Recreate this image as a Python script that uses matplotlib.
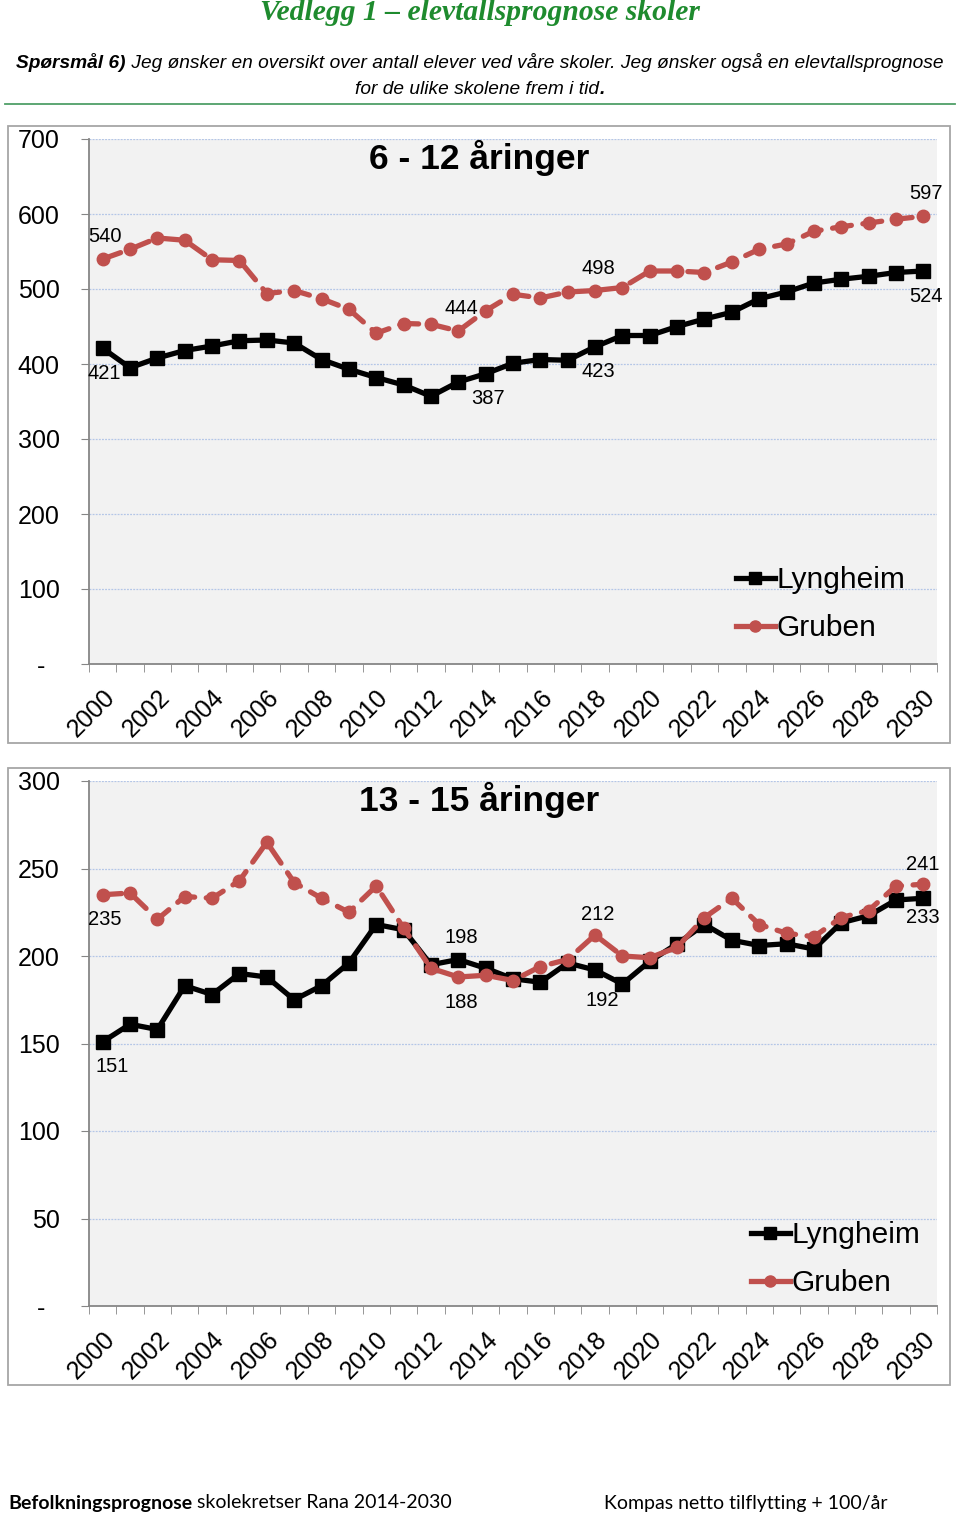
import matplotlib
matplotlib.use("Agg")
import matplotlib.pyplot as plt
from matplotlib.patches import Rectangle
from matplotlib.lines import Line2D

plt.rcParams['font.family'] = ['Liberation Sans', 'DejaVu Sans']

years = list(range(2000, 2031))
year_labels = [str(y) for y in years[::2]]
series_names = ["Lyngheim", "Gruben"]

# 6 - 12 aaringer
lyngheim_6_12 = [421, 395, 408, 418, 424, 431, 432, 428, 406, 393, 382, 372, 357, 376, 387, 401,
                 406, 405, 423, 438, 438, 450, 460, 469, 487, 496, 508, 513, 517, 522, 524]
gruben_6_12 = [540, 553, 568, 565, 539, 538, 494, 498, 487, 473, 441, 454, 453, 444, 471, 493,
               488, 496, 498, 502, 524, 524, 522, 536, 553, 560, 577, 583, 588, 593, 597]

# 13 - 15 aaringer
lyngheim_13_15 = [151, 161, 158, 183, 178, 190, 188, 175, 183, 196, 218, 215, 195, 198, 193, 187,
                  185, 196, 192, 184, 197, 207, 218, 209, 206, 207, 204, 219, 223, 232, 233]
gruben_13_15 = [235, 236, 221, 234, 233, 243, 265, 242, 233, 225, 240, 216, 193, 188, 189, 186,
                194, 198, 212, 200, 199, 205, 222, 233, 218, 213, 211, 222, 226, 240, 241]

W, H = 960, 1517
fig = plt.figure(figsize=(9.6, 15.17), dpi=100)


def fx(px):
    return px / W


def fy(py):
    return 1 - py / H


RED = '#c0504d'


def mixed_line(parts, x_px, y_px, ha='center', **kw):
    r = fig.canvas.get_renderer()
    texts = [fig.text(0, fy(y_px), s, fontweight=w, va='center', **kw) for s, w in parts]
    widths = [t.get_window_extent(r).width for t in texts]
    start = x_px - sum(widths) / 2 if ha == 'center' else x_px
    for t, w in zip(texts, widths):
        t.set_x(fx(start))
        start += w


def draw_chart(box_top, ymax, step, title, lyng, grub, labels, leg_xy):
    # outer frame of the chart
    fig.add_artist(Rectangle((fx(8), fy(box_top + 617)), fx(942), 617 / H,
                             transform=fig.transFigure, facecolor='none',
                             edgecolor='#a6a6a6', linewidth=1.3))
    top = box_top + 13
    ax = fig.add_axes([fx(89), fy(top + 525), fx(848), 525 / H])
    ax.set_facecolor('#f2f2f2')
    x = list(range(len(years)))
    ax.plot(x, lyng, color='black', lw=3.8, marker='s', ms=9.5, zorder=3)
    ax.plot(x, grub, color=RED, lw=3.8, ls=(0, (3.6, 2.2)), marker='o', ms=9,
            dash_capstyle='round', solid_capstyle='round', zorder=3)

    ax.set_xlim(-0.5, len(years) - 0.5)
    ax.set_ylim(0, ymax)
    yt = list(range(0, ymax + 1, step))
    ax.set_yticks(yt)
    ax.set_yticklabels(['-  ' if v == 0 else str(v) for v in yt], fontsize=18)
    ax.tick_params(axis='y', length=6, color='#868686', pad=15)
    ax.set_xticks(x[::2])
    ax.set_xticklabels(year_labels, rotation=45, ha='right', va='top',
                       rotation_mode='anchor', fontsize=18)
    ax.set_xticks([i - 0.5 for i in range(len(years) + 1)], minor=True)
    ax.tick_params(axis='x', which='major', length=0, pad=15)
    ax.tick_params(axis='x', which='minor', length=6, color='#868686')
    ax.grid(axis='y', color='#b4c6e7', lw=0.9, ls=(0, (1.5, 1)))
    ax.set_axisbelow(True)
    for s in ('top', 'right'):
        ax.spines[s].set_visible(False)
    for s in ('left', 'bottom'):
        ax.spines[s].set_color('#868686')
        ax.spines[s].set_linewidth(1.3)

    ax.text(0.46, 0.964, title, transform=ax.transAxes, ha='center', va='center',
            fontsize=25.5, fontweight='bold')

    for series, idx, dx, dy in labels:
        vals = lyng if series == 0 else grub
        ax.annotate(str(vals[idx]), (idx, vals[idx]), xytext=(dx, dy),
                    textcoords='offset pixels', ha='center', va='center', fontsize=14.5)

    handles = [Line2D([], [], color='black', lw=3.8, marker='s', ms=8),
               Line2D([], [], color=RED, lw=3.8, marker='o', ms=8)]
    ax.legend(handles, series_names, loc='upper left', bbox_to_anchor=(fx(leg_xy[0]), fy(leg_xy[1])),
              bbox_transform=fig.transFigure, frameon=False, fontsize=21.5,
              handlelength=1.3, handletextpad=0.05, labelspacing=0.68,
              borderpad=0, borderaxespad=0)
    return ax


# title and question text
fig.text(0.5, fy(13), "Vedlegg 1 \u2013 elevtallsprognose skoler", ha='center', va='center',
         family='Liberation Serif', style='italic', fontweight='bold', color='#1e8b2e', fontsize=21.3)
mixed_line([("Spørsmål 6)", 'bold'),
            (" Jeg ønsker en oversikt over antall elever ved våre skoler. Jeg ønsker også en elevtallsprognose", 'normal')],
           480, 63, style='italic', fontsize=13.8)
mixed_line([("for de ulike skolene frem i tid", 'normal'), (".", 'bold')],
           480, 89, style='italic', fontsize=13.8)
fig.add_artist(Line2D([fx(5), fx(955)], [fy(104), fy(104)], color='#4f9f68', lw=1.3))

draw_chart(126, 700, 100, "6 - 12 åringer", lyngheim_6_12, gruben_6_12,
           [(1, 0, 2, 23), (0, 0, 2, -25), (1, 13, 3, 22), (0, 14, 2, -25),
            (1, 18, 3, 22), (0, 18, 3, -25), (1, 30, 3, 23), (0, 30, 3, -25)],
           (736, 566))
draw_chart(768, 300, 50, "13 - 15 åringer", lyngheim_13_15, gruben_13_15,
           [(1, 0, 2, -25), (0, 0, 10, -25), (0, 13, 3, 22), (1, 13, 3, -25),
            (1, 18, 3, 20), (0, 18, 7, -30), (1, 30, -1, 20), (0, 30, -1, -19)],
           (751, 1221))

# footer
mixed_line([("Befolkningsprognose", 'bold'), (" skolekretser Rana 2014-2030", 'normal')],
           8, 1503, ha='left', family='Lato', fontsize=14)
fig.text(fx(604), fy(1503), "Kompas netto tilflytting + 100/år", ha='left', va='center',
         family='Lato', fontsize=14)

fig.savefig("out.png", dpi=100)
